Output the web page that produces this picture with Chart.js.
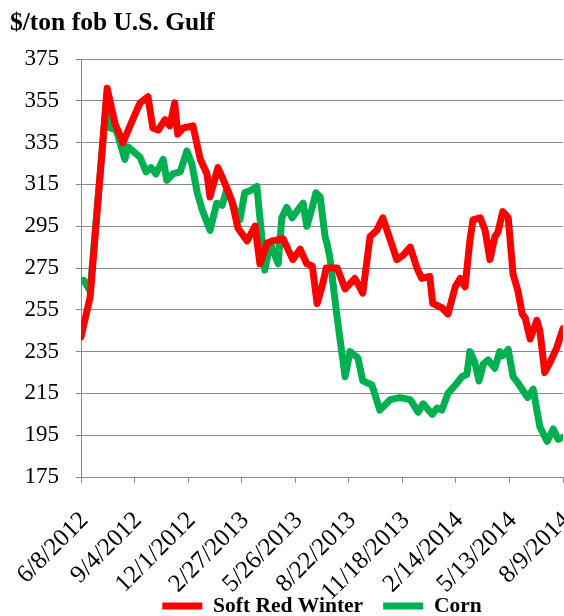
<!DOCTYPE html>
<html>
<head>
<meta charset="utf-8">
<script src="https://cdn.jsdelivr.net/npm/chart.js@4/dist/chart.umd.min.js"></script>
<style>
  html, body { margin: 0; padding: 0; background: #fff; }
  #wrap { width: 564px; height: 616px; }
</style>
</head>
<body>
<div id="wrap"><canvas id="chart" width="564" height="616"></canvas></div>
<script>
// days counted from 6/8/2012, prices in $/ton fob U.S. Gulf
var srwDays = [0, 15, 43, 56, 69, 82, 97, 110, 118, 127, 138, 146, 154, 159, 168, 184, 196, 207, 212, 225,
  237, 248, 258, 273, 286, 294, 306, 315, 332, 348, 360, 371, 380, 388, 396, 403, 421, 434, 450, 463,
  475, 486, 496, 504, 519, 529, 541, 552, 560, 573, 578, 593, 603, 615, 623, 631, 639, 644, 656, 664,
  672, 680, 685, 693, 702, 710, 718, 725, 730, 738, 749, 754, 762, 771, 782, 792];
var srwPrice = [242, 261, 361, 344, 335, 344, 354, 357, 342, 341, 346, 343, 354, 339, 342, 343, 327, 320, 309, 323,
  315, 307, 294, 288, 295, 277, 287, 288, 289, 279, 284, 277, 276, 258, 266, 275, 275, 265, 270, 263,
  290, 293, 299, 292, 279, 281, 285, 275, 270, 271, 258, 256, 253, 266, 270, 266, 288, 298, 299, 293,
  279, 290, 292, 302, 299, 272, 264, 253, 251, 241, 250, 245, 225, 230, 237, 246];

var cornDays = [0, 5, 15, 43, 48, 58, 72, 77, 85, 97, 107, 115, 123, 135, 141, 151, 163, 174, 182, 191,
  199, 212, 223, 232, 240, 253, 261, 269, 278, 289, 297, 302, 311, 324, 330, 338, 347, 357, 365, 371,
  380, 386, 393, 401, 404, 409, 421, 434, 442, 455, 463, 478, 491, 508, 524, 541, 554, 562, 577, 585,
  593, 603, 618, 626, 634, 639, 647, 654, 661, 669, 680, 688, 693, 702, 710, 718, 734, 743, 754, 766,
  776, 784, 792];
var cornPrice = [269, 269, 264, 359, 342, 341, 327, 333, 331, 328, 321, 323, 320, 327, 317, 320, 321, 331, 325, 311,
  303, 293, 306, 305, 313, 303, 298, 311, 312, 314, 290, 274, 287, 277, 299, 304, 299, 303, 306, 295,
  304, 311, 309, 290, 287, 280, 251, 223, 235, 232, 221, 219, 207, 212, 213, 212, 206, 210, 205, 208,
  207, 215, 220, 223, 224, 235, 230, 221, 229, 231, 227, 235, 233, 236, 223, 220, 213, 217, 199, 192,
  198, 193, 194];

var xTickLabels = ['6/8/2012', '9/4/2012', '12/1/2012', '2/27/2013', '5/26/2013',
  '8/22/2013', '11/18/2013', '2/14/2014', '5/13/2014', '8/9/2014'];

function toPoints(days, vals) {
  var pts = [];
  for (var i = 0; i < days.length; i++) pts.push({x: days[i], y: vals[i]});
  return pts;
}

var serif = '"Liberation Serif", "Times New Roman", serif';
var gridGray = '#8a8a8a';

// the date labels reach down beside the legend, so let them draw past the axis box
var labelRoom = {
  id: 'labelRoom',
  afterLayout: function(chart) { chart.scales.x.bottom = chart.height; }
};

var ctx = document.getElementById('chart');
var chart = new Chart(ctx, {
  type: 'line',
  data: {
    datasets: [
      {
        label: 'Soft Red Winter',
        data: toPoints(srwDays, srwPrice),
        borderColor: '#ff0000',
        backgroundColor: '#ff0000',
        borderWidth: 7,
        borderCapStyle: 'round',
        borderJoinStyle: 'round',
        pointRadius: 0,
        tension: 0
      },
      {
        label: 'Corn',
        data: toPoints(cornDays, cornPrice),
        borderColor: '#00b050',
        backgroundColor: '#00b050',
        borderWidth: 7,
        borderCapStyle: 'round',
        borderJoinStyle: 'round',
        pointRadius: 0,
        tension: 0
      }
    ]
  },
  plugins: [labelRoom],
  options: {
    responsive: false,
    animation: false,
    layout: { padding: { left: 10, right: 1, top: 0, bottom: 0 } },
    plugins: {
      title: {
        display: true,
        text: '$/ton fob U.S. Gulf',
        align: 'start',
        color: '#000',
        font: { family: serif, size: 25.5, weight: 'bold' },
        padding: { top: 8, bottom: 20.4 }
      },
      legend: {
        position: 'bottom',
        fullSize: false,
        maxHeight: 40.75,
        labels: {
          color: '#000',
          font: { family: serif, size: 21.5, weight: 'bold' },
          usePointStyle: true,
          pointStyle: 'line',
          pointStyleWidth: 40,
          padding: 20
        }
      },
      tooltip: { enabled: false }
    },
    scales: {
      x: {
        type: 'linear',
        min: 0,
        max: 792,
        afterFit: function(s) { s.paddingLeft = 0; s.paddingRight = 0; s.height = 98.25; },
        ticks: {
          stepSize: 88,
          autoSkip: false,
          maxRotation: 45,
          minRotation: 45,
          padding: 23,
          labelOffset: 3.5,
          color: '#000',
          font: { family: serif, size: 25 },
          callback: function(v, i) { return xTickLabels[i]; }
        },
        grid: { drawOnChartArea: false, drawTicks: true, tickLength: 6, color: gridGray },
        border: { color: gridGray, width: 1 }
      },
      y: {
        min: 175,
        max: 375,
        afterFit: function(s) { s.width = 71; },
        ticks: {
          stepSize: 20,
          padding: 17,
          color: '#000',
          font: { family: serif, size: 23 }
        },
        grid: { color: gridGray, tickLength: 5 },
        border: { color: gridGray, width: 1 }
      }
    }
  }
});
</script>
</body>
</html>
